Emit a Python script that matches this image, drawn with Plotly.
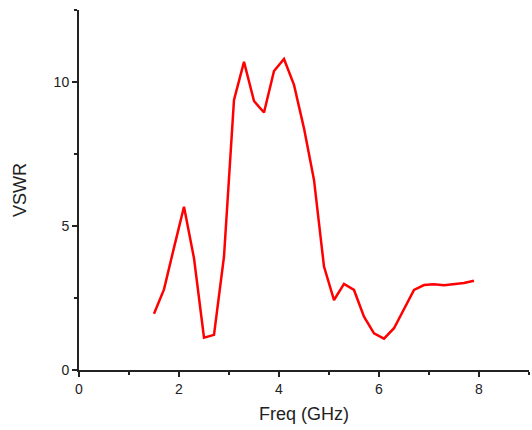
import plotly.graph_objects as go

freq = [1.5, 1.7, 1.9, 2.1, 2.3, 2.5, 2.7, 2.9, 3.1, 3.3, 3.5, 3.7, 3.9, 4.1, 4.3, 4.5, 4.7, 4.9,
        5.1, 5.3, 5.5, 5.7, 5.9, 6.1, 6.3, 6.5, 6.7, 6.9, 7.1, 7.3, 7.5, 7.7, 7.9]
vswr = [1.95, 2.8, 4.25, 5.67, 3.88, 1.12, 1.22, 3.94, 9.38, 10.7, 9.34, 8.94, 10.38, 10.8, 9.9,
        8.39, 6.6, 3.59, 2.43, 2.99, 2.78, 1.85, 1.27, 1.09, 1.45, 2.14, 2.78, 2.95, 2.98, 2.94,
        2.98, 3.02, 3.1]

fig = go.Figure(go.Scatter(x=freq, y=vswr, mode="lines",
                           line=dict(color="#ff0000", width=2.5)))

axis_common = dict(showline=True, linecolor="#222222", linewidth=2, ticks="outside",
                   tickcolor="#222222", tickwidth=1.5, ticklen=5, showgrid=False,
                   zeroline=False, tickfont=dict(family="Liberation Sans, Arial", size=14, color="#222222"),
                   title_font=dict(family="Liberation Sans, Arial", size=18, color="#222222"))

fig.update_layout(
    width=532, height=430,
    margin=dict(l=79, r=3, t=10, b=60),
    plot_bgcolor="white", paper_bgcolor="white",
    showlegend=False,
    xaxis=dict(range=[0, 9], dtick=2, tick0=0, title=dict(text="Freq (GHz)", standoff=12),
               minor=dict(dtick=1, ticks="outside", ticklen=3, tickcolor="#222222", tickwidth=1.5),
               **axis_common),
    yaxis=dict(range=[0, 12.5], dtick=5, tick0=0, title=dict(text="VSWR", standoff=22),
               minor=dict(dtick=2.5, ticks="outside", ticklen=3, tickcolor="#222222", tickwidth=1.5),
               **axis_common),
)

fig.write_html("out.html")
